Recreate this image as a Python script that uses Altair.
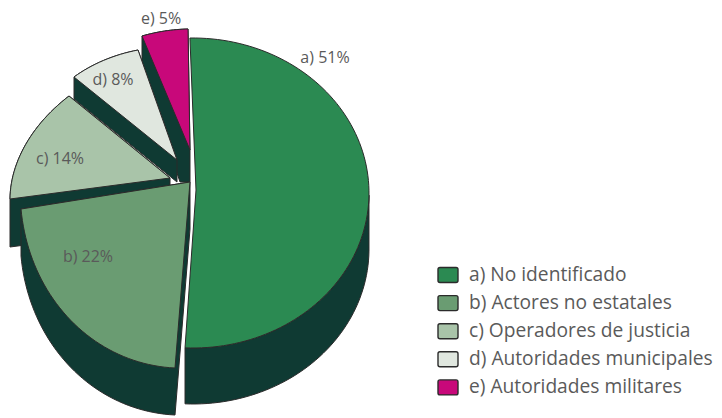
import math
import altair as alt

# ---- values ----
CATEGORIES = ["a) No identificado", "b) Actores no estatales", "c) Operadores de justicia",
              "d) Autoridades municipales", "e) Autoridades militares"]
SHARES = [51, 22, 14, 8, 5]
SLICE_LABELS = ["a) 51%", "b) 22%", "c) 14%", "d) 8%", "e) 5%"]
COLORS = ["#2b8a52", "#6a9c72", "#a9c4a9", "#e0e7df", "#c8087a"]
LABEL_X = [325, 88, 60, 113, 161]
LABEL_Y = [58, 257, 159, 80, 19]

# ---- exploded / tilted view: each wedge is the affine image of a circular sector ----
# apex, and the two rim corners (clockwise), in page pixels
APEX = [(196, 190), (190, 182), (170, 178), (177, 160), (190, 150)]
RIM1 = [None, (175, 368), (10, 199), (74, 77), (142, 36)]
RIM2 = [None, (21, 209), (69, 96), (138, 50), (188, 29)]
DEPTH = [56, 47, 48, 22, 32]
SIDE_EXTRA = {4: [(180, 182)]}
DARK = "#0f3a33"
EDGE = "#2b2b2b"
OX, OY = 8, 8
FONT = "Open Sans"
TEXT = "#5a5a5a"


def wedge(i):
    th = math.radians(SHARES[i] * 3.6)
    if i == 0:
        c, u, v, p0 = (193, 193), (0, -155), (176, 0), math.radians(-1)
    else:
        c = APEX[i]
        u = (RIM1[i][0] - c[0], RIM1[i][1] - c[1])
        w = (RIM2[i][0] - c[0], RIM2[i][1] - c[1])
        v = ((w[0] - u[0] * math.cos(th)) / math.sin(th), (w[1] - u[1] * math.cos(th)) / math.sin(th))
        p0 = 0.0
    n = max(16, SHARES[i] * 2)
    arc, phis = [], []
    for k in range(n + 1):
        f = p0 + th * k / n
        arc.append((c[0] + u[0] * math.cos(f) + v[0] * math.sin(f),
                    c[1] + u[1] * math.cos(f) + v[1] * math.sin(f)))
        phis.append(f)
    return arc, phis


def hull(pts):
    pts = sorted(set(pts))
    def cross(o, a, b):
        return (a[0] - o[0]) * (b[1] - o[1]) - (a[1] - o[1]) * (b[0] - o[0])
    lo, up = [], []
    for p in pts:
        while len(lo) > 1 and cross(lo[-2], lo[-1], p) <= 0:
            lo.pop()
        lo.append(p)
    for p in reversed(pts):
        while len(up) > 1 and cross(up[-2], up[-1], p) <= 0:
            up.pop()
        up.append(p)
    return lo[:-1] + up[:-1]


def feature(points, name):
    ring = [[p[0] - OX, p[1] - OY] for p in points]
    ring.append(ring[0])
    return {"type": "Feature", "properties": {"name": name},
            "geometry": {"type": "Polygon", "coordinates": [ring]}}


projection = dict(type="identity", scale=1, translate=[0, 0])
color = alt.Color(
    "properties.name:N",
    scale=alt.Scale(domain=CATEGORIES, range=COLORS),
    legend=alt.Legend(
        title=None, orient="none", legendX=429, legendY=256,
        labelFont=FONT, labelFontSize=19.2, labelColor=TEXT, labelLimit=300,
        symbolType="M-1,-0.55 Q-1,-0.75 -0.8,-0.75 L0.8,-0.75 Q1,-0.75 1,-0.55 L1,0.55 Q1,0.75 0.8,0.75 L-0.8,0.75 Q-1,0.75 -1,0.55 Z",
        symbolSize=400, symbolStrokeColor=EDGE, symbolStrokeWidth=1.4, symbolOpacity=1,
        rowPadding=6.1, labelOffset=10,
    ),
)

layers = []
for i in [4, 3, 2, 1, 0]:
    arc, phis = wedge(i)
    d = DEPTH[i]
    if i == 0:
        wall = [p for p, f in zip(arc, phis) if f >= math.pi / 2]
        side = wall + [(p[0], p[1] + d) for p in reversed(wall)]
    else:
        face = [APEX[i]] + arc
        side = hull(face + [(p[0], p[1] + d) for p in face] + SIDE_EXTRA.get(i, []))
    layers.append(
        alt.Chart(alt.Data(values=[feature(side, CATEGORIES[i])]))
        .mark_geoshape(fill=DARK, stroke=EDGE, strokeWidth=1)
        .project(**projection)
    )
    layers.append(
        alt.Chart(alt.Data(values=[feature([APEX[i]] + arc, CATEGORIES[i])]))
        .mark_geoshape(stroke=EDGE, strokeWidth=1, opacity=1)
        .encode(color=color)
        .project(**projection)
    )

labels = alt.Chart(alt.Data(values=[
    {"t": t, "x": x - OX, "y": y - OY} for t, x, y in zip(SLICE_LABELS, LABEL_X, LABEL_Y)
])).mark_text(font=FONT, fontSize=16, color=TEXT).encode(
    x=alt.X("x:Q", scale=None), y=alt.Y("y:Q", scale=None), text="t:N"
)

chart = alt.layer(*layers, labels).properties(
    width=706, height=408, padding=0, autosize=alt.AutoSizeParams(type="none"),
    background="white",
).configure_view(stroke=None)

chart.save("out.html", embed_options={"renderer": "svg", "actions": False})
